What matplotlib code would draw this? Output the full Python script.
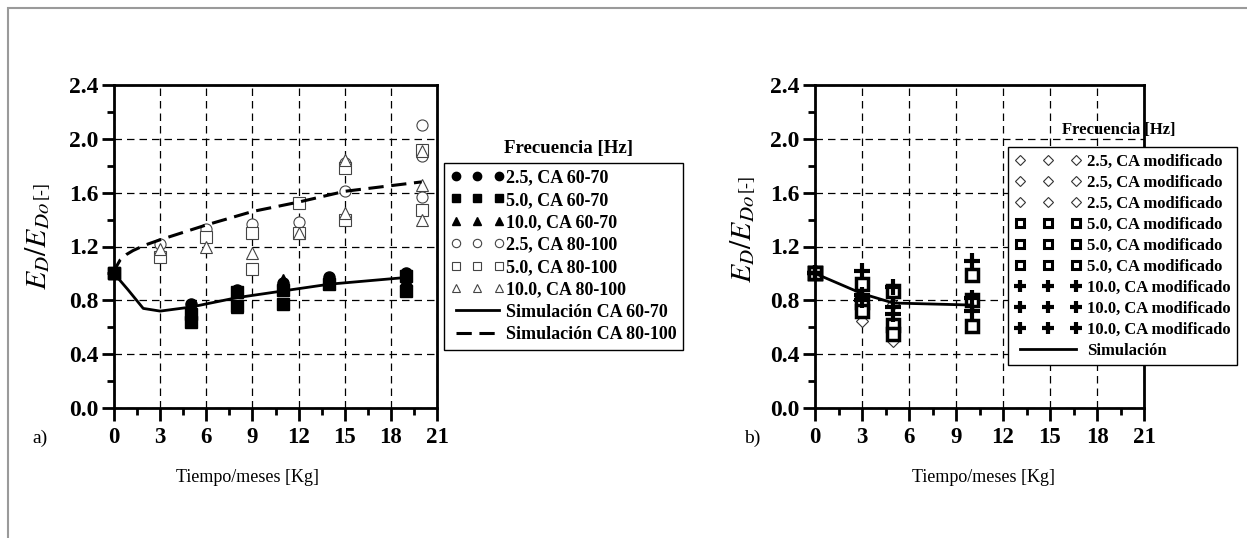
import matplotlib
matplotlib.use("Agg")
import matplotlib.pyplot as plt
from matplotlib.patches import Rectangle

plt.rcParams['font.family'] = 'serif'
plt.rcParams['font.serif'] = ['Liberation Serif', 'DejaVu Serif']
plt.rcParams['mathtext.fontset'] = 'stix'

# ---- panel a) data: CA 60-70 (filled) ----
x_c60 = [0, 5, 8, 11, 14, 19]
y_c60 = [1.0, 0.77, 0.88, 0.93, 0.97, 1.0]
x_s60 = [0, 5, 5, 8, 8, 11, 11, 14, 19, 19]
y_s60 = [1.0, 0.64, 0.70, 0.86, 0.76, 0.88, 0.77, 0.92, 0.98, 0.87]
x_t60 = [0, 5, 8, 11, 14, 19]
y_t60 = [1.0, 0.73, 0.75, 0.95, 0.93, 0.95]
# CA 80-100 (open)
x_c80 = [0, 3, 6, 9, 12, 15, 15, 20, 20, 20]
y_c80 = [1.0, 1.22, 1.33, 1.37, 1.38, 1.82, 1.61, 2.10, 1.87, 1.57]
x_s80 = [0, 3, 6, 9, 9, 12, 12, 15, 15, 20, 20]
y_s80 = [1.0, 1.12, 1.27, 1.30, 1.03, 1.52, 1.30, 1.78, 1.40, 1.92, 1.47]
x_t80 = [0, 3, 6, 9, 12, 15, 15, 20, 20, 20]
y_t80 = [1.0, 1.18, 1.20, 1.15, 1.30, 1.84, 1.45, 1.91, 1.66, 1.40]
# simulations
x_sim60 = [0, 0.9, 1.9, 3, 5, 8, 11, 14, 19]
y_sim60 = [1.0, 0.88, 0.74, 0.72, 0.75, 0.82, 0.87, 0.92, 0.97]
x_sim80 = [0, 0.15, 0.4, 0.8, 1.24, 2, 3, 6, 9, 12, 15, 20]
y_sim80 = [1.0, 1.05, 1.10, 1.14, 1.17, 1.21, 1.25, 1.36, 1.46, 1.53, 1.61, 1.68]

# ---- panel b) data: CA modificado ----
x_mod = [0, 3, 5, 10]
y_d1 = [1.0, 0.65, 0.50, 0.82]
y_d2 = [1.0, 0.75, 0.77, 0.80]
y_d3 = [1.0, 0.80, 0.60, 0.78]
y_q1 = [1.0, 0.92, 0.87, 0.99]
y_q2 = [1.0, 0.79, 0.62, 0.80]
y_q3 = [1.0, 0.72, 0.55, 0.61]
y_p1 = [1.0, 1.02, 0.90, 1.09]
y_p2 = [1.0, 0.84, 0.70, 0.82]
y_p3 = [1.0, 0.80, 0.75, 0.72]
x_simb = [0, 3, 5, 10]
y_simb = [1.0, 0.85, 0.78, 0.765]

xticks = [0, 3, 6, 9, 12, 15, 18, 21]
yticks = [0.0, 0.4, 0.8, 1.2, 1.6, 2.0, 2.4]

W, H = 1247, 538
fig = plt.figure(figsize=(W / 100, H / 100), dpi=100)

# outer grey frame
fig.add_artist(Rectangle((8 / W, -0.1), 1.2, 1 - 8 / H + 0.1, transform=fig.transFigure,
                         fill=False, edgecolor='#9a9a9a', lw=1.5))

ax1 = fig.add_axes([114 / W, 1 - 408 / H, 323 / W, 323 / H])
ax2 = fig.add_axes([815 / W, 1 - 408 / H, 329 / W, 323 / H])


def style(ax):
    ax.set_xlim(0, 21)
    ax.set_ylim(0, 2.4)
    ax.set_xticks(xticks)
    ax.set_yticks(yticks)
    ax.set_xticks([1.5 + 3 * i for i in range(7)], minor=True)
    ax.set_yticks([0.2 + 0.4 * i for i in range(6)], minor=True)
    ax.set_xticklabels([str(t) for t in xticks], fontsize=16.5, fontweight='bold')
    ax.set_yticklabels(['%.1f' % t for t in yticks], fontsize=17, fontweight='bold')
    ax.tick_params(which='major', direction='out', length=9, width=2, pad=2)
    ax.tick_params(axis='x', which='major', pad=5)
    ax.tick_params(which='minor', direction='out', length=5, width=2)
    for s in ax.spines.values():
        s.set_linewidth(2)
    ax.grid(True, which='major', color='black', lw=0.9, ls=(0, (6, 4)))
    ax.set_axisbelow(True)


style(ax1)
style(ax2)

ms_open = dict(ls='none', mfc='white', mec='#444444', mew=0.8, ms=8, clip_on=False)
ax1.plot(x_c60, y_c60, 'o', ls='none', color='black', ms=8, clip_on=False, label='2.5, CA 60-70')
ax1.plot(x_s60, y_s60, 's', ls='none', color='black', ms=8, clip_on=False, label='5.0, CA 60-70')
ax1.plot(x_t60, y_t60, '^', ls='none', color='black', ms=8, clip_on=False, label='10.0, CA 60-70')
ax1.plot(x_c80, y_c80, 'o', label='2.5, CA 80-100', **ms_open)
ax1.plot(x_s80, y_s80, 's', label='5.0, CA 80-100', **ms_open)
ax1.plot(x_t80, y_t80, '^', label='10.0, CA 80-100', **ms_open)
ax1.plot(x_sim60, y_sim60, '-', color='black', lw=2, label='Simulación CA 60-70')
ax1.plot(x_sim80, y_sim80, color='black', lw=2.2, ls=(0, (5, 2.5)), label='Simulación CA 80-100')
# redraw the filled point at the origin on top
ax1.plot([x_s60[0]], [y_s60[0]], 's', color='black', ms=8, clip_on=False, zorder=5)

dia = dict(ls='none', marker='D', mfc='white', mec='#333333', mew=0.8, ms=6, clip_on=False)
sq = dict(ls='none', marker='s', mfc='white', mec='black', mew=2.5, ms=8, clip_on=False)
pl = dict(ls='none', marker='+', color='black', mew=3, ms=11, clip_on=False)
ax2.plot(x_mod, y_d1, label='2.5, CA modificado', **dia)
ax2.plot(x_mod, y_d2, label='2.5, CA modificado', **dia)
ax2.plot(x_mod, y_d3, label='2.5, CA modificado', **dia)
ax2.plot(x_mod, y_q1, label='5.0, CA modificado', **sq)
ax2.plot(x_mod, y_q2, label='5.0, CA modificado', **sq)
ax2.plot(x_mod, y_q3, label='5.0, CA modificado', **sq)
ax2.plot(x_mod, y_p1, label='10.0, CA modificado', **pl)
ax2.plot(x_mod, y_p2, label='10.0, CA modificado', **pl)
ax2.plot(x_mod, y_p3, label='10.0, CA modificado', **pl)
ax2.plot(x_simb, y_simb, '-', color='black', lw=2, label='Simulación')

leg1 = ax1.legend(loc='upper left', bbox_to_anchor=(444 / W, 1 - 163 / H),
                  bbox_transform=fig.transFigure, borderaxespad=0, numpoints=3,
                  handlelength=3.0, handletextpad=0.1, labelspacing=0.3, borderpad=0.35,
                  fancybox=False, framealpha=1, edgecolor='black',
                  prop={'weight': 'bold', 'size': 13})
leg1.get_frame().set_linewidth(1.0)
leg1.set_zorder(10)
for h in leg1.legend_handles[:6]:
    h.set_markersize(6)

leg2 = ax2.legend(loc='upper left', bbox_to_anchor=(1008 / W, 1 - 147 / H),
                  bbox_transform=fig.transFigure, borderaxespad=0, numpoints=3,
                  handlelength=4.0, handletextpad=0.35, labelspacing=0.3, borderpad=0.4,
                  fancybox=False, framealpha=1, edgecolor='black',
                  prop={'weight': 'bold', 'size': 12})
leg2.get_frame().set_linewidth(1.0)
leg2.set_zorder(10)
for h in leg2.legend_handles[:3]:
    h.set_markersize(5)
for h in leg2.legend_handles[3:6]:
    h.set_markersize(6)
    h.set_markeredgewidth(2.2)
for h in leg2.legend_handles[6:9]:
    h.set_markersize(9)

fig.text(568 / W, 1 - 148 / H, 'Frecuencia [Hz]', ha='center', va='center',
         fontsize=13.6, fontweight='bold')
fig.text(1119 / W, 1 - 130 / H, 'Frecuencia [Hz]', ha='center', va='center',
         fontsize=12, fontweight='bold')

# axis labels
for xc, yb, yt in [(38, 290, 199), (743, 283, 192)]:
    fig.text(xc / W, 1 - yb / H, r'$E_D/E_{Do}$', rotation=90, ha='center', va='bottom',
             fontsize=21.5)
    fig.text((xc + 3) / W, 1 - yt / H, '[-]', rotation=90, ha='center', va='bottom',
             fontsize=13)

fig.text(247 / W, 1 - 478 / H, 'Tiempo/meses [Kg]', ha='center', va='center', fontsize=13)
fig.text(983 / W, 1 - 478 / H, 'Tiempo/meses [Kg]', ha='center', va='center', fontsize=13)
fig.text(40 / W, 1 - 438 / H, 'a)', ha='center', va='center', fontsize=14)
fig.text(752 / W, 1 - 438 / H, 'b)', ha='center', va='center', fontsize=14)

fig.savefig('out.png', dpi=100)
